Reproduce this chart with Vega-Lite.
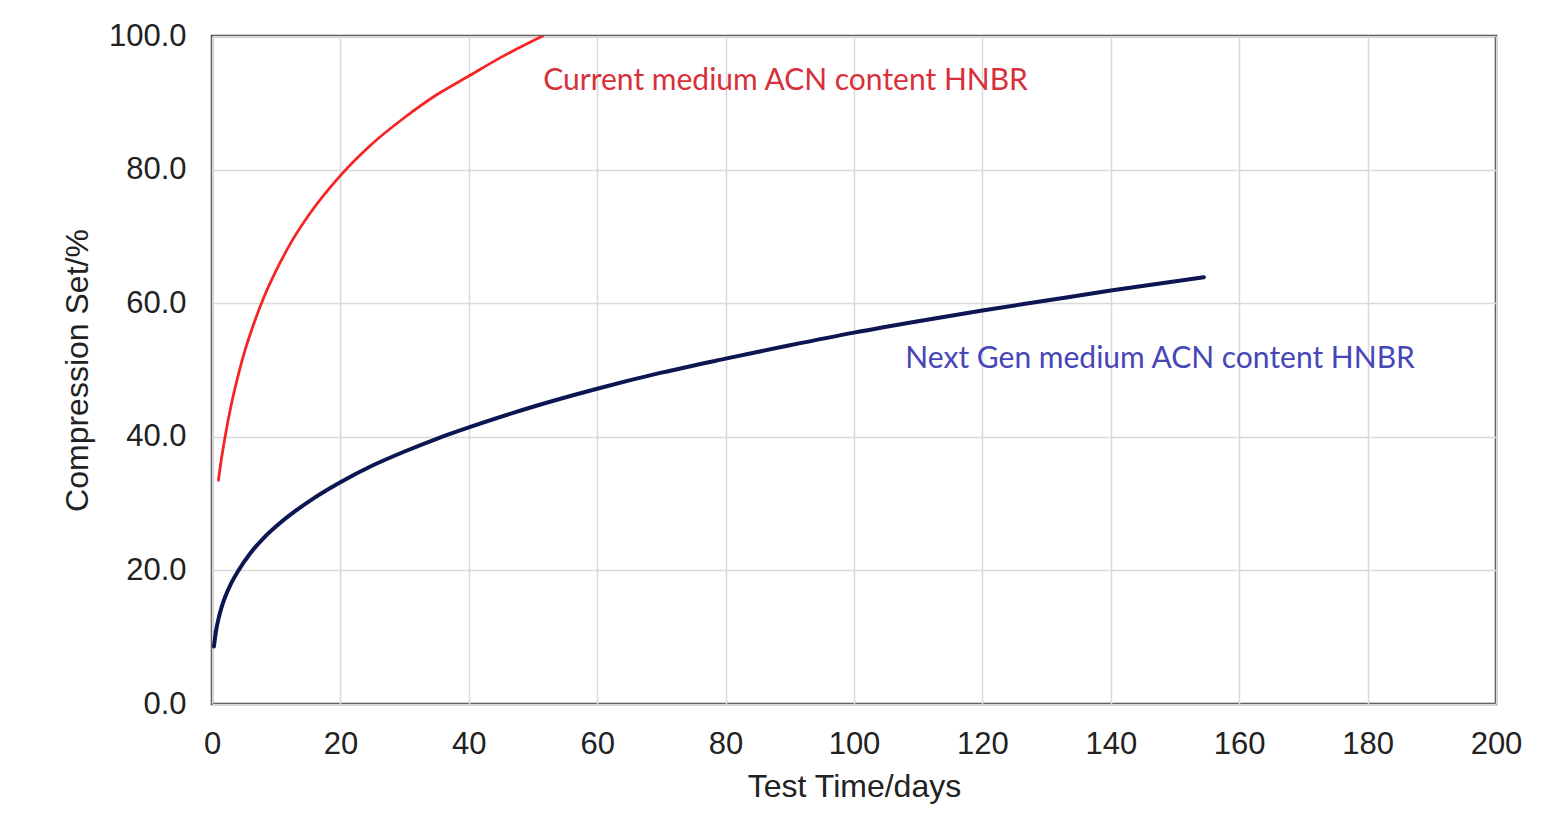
{
  "$schema": "https://vega.github.io/schema/vega-lite/v6.json",
  "autosize": {"type": "none"},
  "width": 1284,
  "height": 668,
  "padding": {"left": 212, "top": 36, "right": 51, "bottom": 131},
  "background": "white",
  "config": {
    "view": {"stroke": "#3a3a3a", "strokeWidth": 2.5},
    "axis": {
      "labelFont": "Liberation Sans",
      "titleFont": "Liberation Sans",
      "labelFontSize": 31,
      "titleFontSize": 32,
      "labelColor": "#222222",
      "titleColor": "#222222",
      "titleFontWeight": "normal",
      "gridColor": "#d9d9d9",
      "gridWidth": 1.5,
      "domain": false,
      "ticks": false,
      "labelFlush": false
    }
  },
  "datasets": {
    "curves": [
      {"series": "Current", "days": 1, "set": 33.5},
      {"series": "Current", "days": 1.5, "set": 36.9},
      {"series": "Current", "days": 2, "set": 39.8},
      {"series": "Current", "days": 3, "set": 44.8},
      {"series": "Current", "days": 4, "set": 48.9},
      {"series": "Current", "days": 5, "set": 52.5},
      {"series": "Current", "days": 6, "set": 55.5},
      {"series": "Current", "days": 8, "set": 60.7},
      {"series": "Current", "days": 10, "set": 64.9},
      {"series": "Current", "days": 12.5, "set": 69.4},
      {"series": "Current", "days": 15, "set": 73.1},
      {"series": "Current", "days": 20, "set": 79.1},
      {"series": "Current", "days": 25, "set": 83.9},
      {"series": "Current", "days": 30, "set": 87.8},
      {"series": "Current", "days": 35, "set": 91.2},
      {"series": "Current", "days": 40, "set": 94.0},
      {"series": "Current", "days": 45, "set": 96.8},
      {"series": "Current", "days": 51.5, "set": 100},
      {"series": "NextGen", "days": 0.3, "set": 8.6},
      {"series": "NextGen", "days": 0.6, "set": 10.8},
      {"series": "NextGen", "days": 1, "set": 12.7},
      {"series": "NextGen", "days": 1.5, "set": 14.5},
      {"series": "NextGen", "days": 2, "set": 15.9},
      {"series": "NextGen", "days": 3, "set": 18.1},
      {"series": "NextGen", "days": 4, "set": 19.8},
      {"series": "NextGen", "days": 6, "set": 22.6},
      {"series": "NextGen", "days": 8, "set": 24.8},
      {"series": "NextGen", "days": 10, "set": 26.6},
      {"series": "NextGen", "days": 13, "set": 28.9},
      {"series": "NextGen", "days": 16, "set": 30.9},
      {"series": "NextGen", "days": 20, "set": 33.2},
      {"series": "NextGen", "days": 25, "set": 35.7},
      {"series": "NextGen", "days": 30, "set": 37.8},
      {"series": "NextGen", "days": 35, "set": 39.7},
      {"series": "NextGen", "days": 40, "set": 41.4},
      {"series": "NextGen", "days": 50, "set": 44.5},
      {"series": "NextGen", "days": 60, "set": 47.2},
      {"series": "NextGen", "days": 70, "set": 49.6},
      {"series": "NextGen", "days": 80, "set": 51.7},
      {"series": "NextGen", "days": 90, "set": 53.7},
      {"series": "NextGen", "days": 100, "set": 55.6},
      {"series": "NextGen", "days": 110, "set": 57.3},
      {"series": "NextGen", "days": 120, "set": 58.9},
      {"series": "NextGen", "days": 130, "set": 60.4},
      {"series": "NextGen", "days": 140, "set": 61.9},
      {"series": "NextGen", "days": 154.5, "set": 63.9}
    ],
    "labels": [
      {"series": "Current", "text": "Current medium ACN content HNBR", "days": 51.6, "set": 93.2},
      {"series": "NextGen", "text": "Next Gen medium ACN content HNBR", "days": 108, "set": 51.7}
    ]
  },
  "layer": [
    {
      "data": {"name": "curves"},
      "mark": {"type": "line", "interpolate": "monotone", "strokeCap": "round", "clip": true},
      "encoding": {
        "x": {
          "field": "days", "type": "quantitative",
          "scale": {"domain": [0, 200], "nice": false},
          "axis": {"title": "Test Time/days", "values": [0,20,40,60,80,100,120,140,160,180,200], "labelPadding": 25, "titlePadding": 12, "grid": true}
        },
        "y": {
          "field": "set", "type": "quantitative",
          "scale": {"domain": [0, 100], "nice": false},
          "axis": {"title": "Compression Set/%", "values": [0,20,40,60,80,100], "format": ".1f", "labelPadding": 26, "titlePadding": 14, "grid": true}
        },
        "color": {
          "field": "series", "type": "nominal",
          "scale": {"domain": ["Current", "NextGen"], "range": ["#f52525", "#0c1652"]},
          "legend": null
        },
        "strokeWidth": {
          "field": "series", "type": "nominal",
          "scale": {"domain": ["Current", "NextGen"], "range": [2.8, 4]},
          "legend": null
        }
      }
    },
    {
      "data": {"name": "labels"},
      "mark": {"type": "text", "align": "left", "baseline": "middle", "font": "Lato", "fontSize": 30},
      "encoding": {
        "x": {"field": "days", "type": "quantitative"},
        "y": {"field": "set", "type": "quantitative"},
        "text": {"field": "text"},
        "color": {
          "field": "series", "type": "nominal",
          "scale": {"domain": ["Current", "NextGen"], "range": ["#d8303a", "#4646b8"]},
          "legend": null
        }
      }
    }
  ],
  "resolve": {"scale": {"color": "independent"}}
}
